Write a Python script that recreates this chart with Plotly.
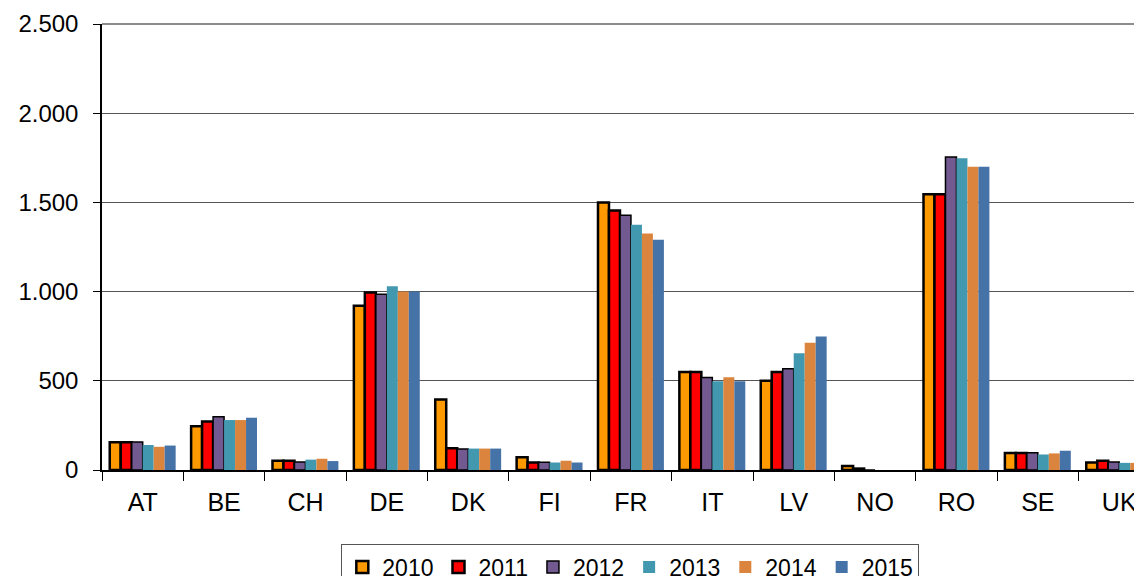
import plotly.graph_objects as go

categories = ["AT", "BE", "CH", "DE", "DK", "FI", "FR", "IT", "LV", "NO", "RO", "SE", "UK"]
years = ["2010", "2011", "2012", "2013", "2014", "2015"]

v2010 = [155, 245, 52, 920, 395, 72, 1500, 550, 500, 22, 1545, 95, 42]
v2011 = [155, 272, 52, 995, 122, 42, 1455, 550, 550, 8, 1545, 95, 52]
v2012 = [157, 298, 45, 985, 118, 44, 1428, 518, 567, 0, 1755, 97, 45]
v2013 = [140, 280, 58, 1030, 120, 42, 1375, 497, 655, 0, 1748, 87, 40]
v2014 = [130, 280, 63, 1000, 120, 52, 1325, 520, 713, 0, 1700, 93, 40]
v2015 = [137, 293, 50, 1000, 120, 42, 1290, 497, 748, 0, 1700, 108, 40]

series = [v2010, v2011, v2012, v2013, v2014, v2015]
colors = ["#FF9900", "#FF0000", "#725990", "#4198AF", "#DB843D", "#4572A7"]
line_w = [2.5, 2.5, 1.5, 0, 0, 0]

fig = go.Figure()
for name, vals, col, lw in zip(years, series, colors, line_w):
    fig.add_trace(go.Bar(
        x=categories, y=vals, name=name,
        marker=dict(color=col, line=dict(color="#000000", width=lw)),
        hoverinfo="skip",
    ))

font = "Liberation Sans, Arial, sans-serif"
# page body has an 8px default margin, so the figure is offset by 8px
fig.update_layout(
    width=1134, height=568,
    margin=dict(l=94, r=0, t=16, b=106, autoexpand=False),
    paper_bgcolor="white", plot_bgcolor="white",
    barmode="group", bargap=0.19, bargroupgap=0,
    separators=",.",
    font=dict(family=font, size=23, color="#000000"),
    showlegend=True,
    legend=dict(
        orientation="h", x=0.508, xanchor="center", y=-0.167, yanchor="top",
        bordercolor="#555555", borderwidth=1,
        font=dict(family=font, size=23, color="#000000"),
        traceorder="normal",
    ),
    xaxis=dict(
        type="category", range=[-0.5, 12.28],
        showline=True, linecolor="#000000", linewidth=1.5,
        ticks="outside", tickson="boundaries", ticklen=9, tickcolor="#000000",
        ticklabelstandoff=9,
        tickfont=dict(family=font, size=25),
        showgrid=False, zeroline=False,
    ),
    yaxis=dict(
        range=[0, 2500], tickvals=[0, 500, 1000, 1500, 2000, 2500],
        tickformat=",d",
        showline=True, linecolor="#000000", linewidth=1.5,
        ticks="outside", ticklen=7, tickcolor="#000000",
        ticklabelstandoff=10,
        tickfont=dict(family=font, size=24),
        showgrid=True, gridcolor="#555555", gridwidth=1,
        zeroline=False,
    ),
    shapes=[dict(type="line", xref="paper", yref="paper", x0=0, x1=1, y0=1, y1=1,
                 line=dict(color="#8C8C8C", width=2), layer="above")],
)

fig.write_html("out.html")
